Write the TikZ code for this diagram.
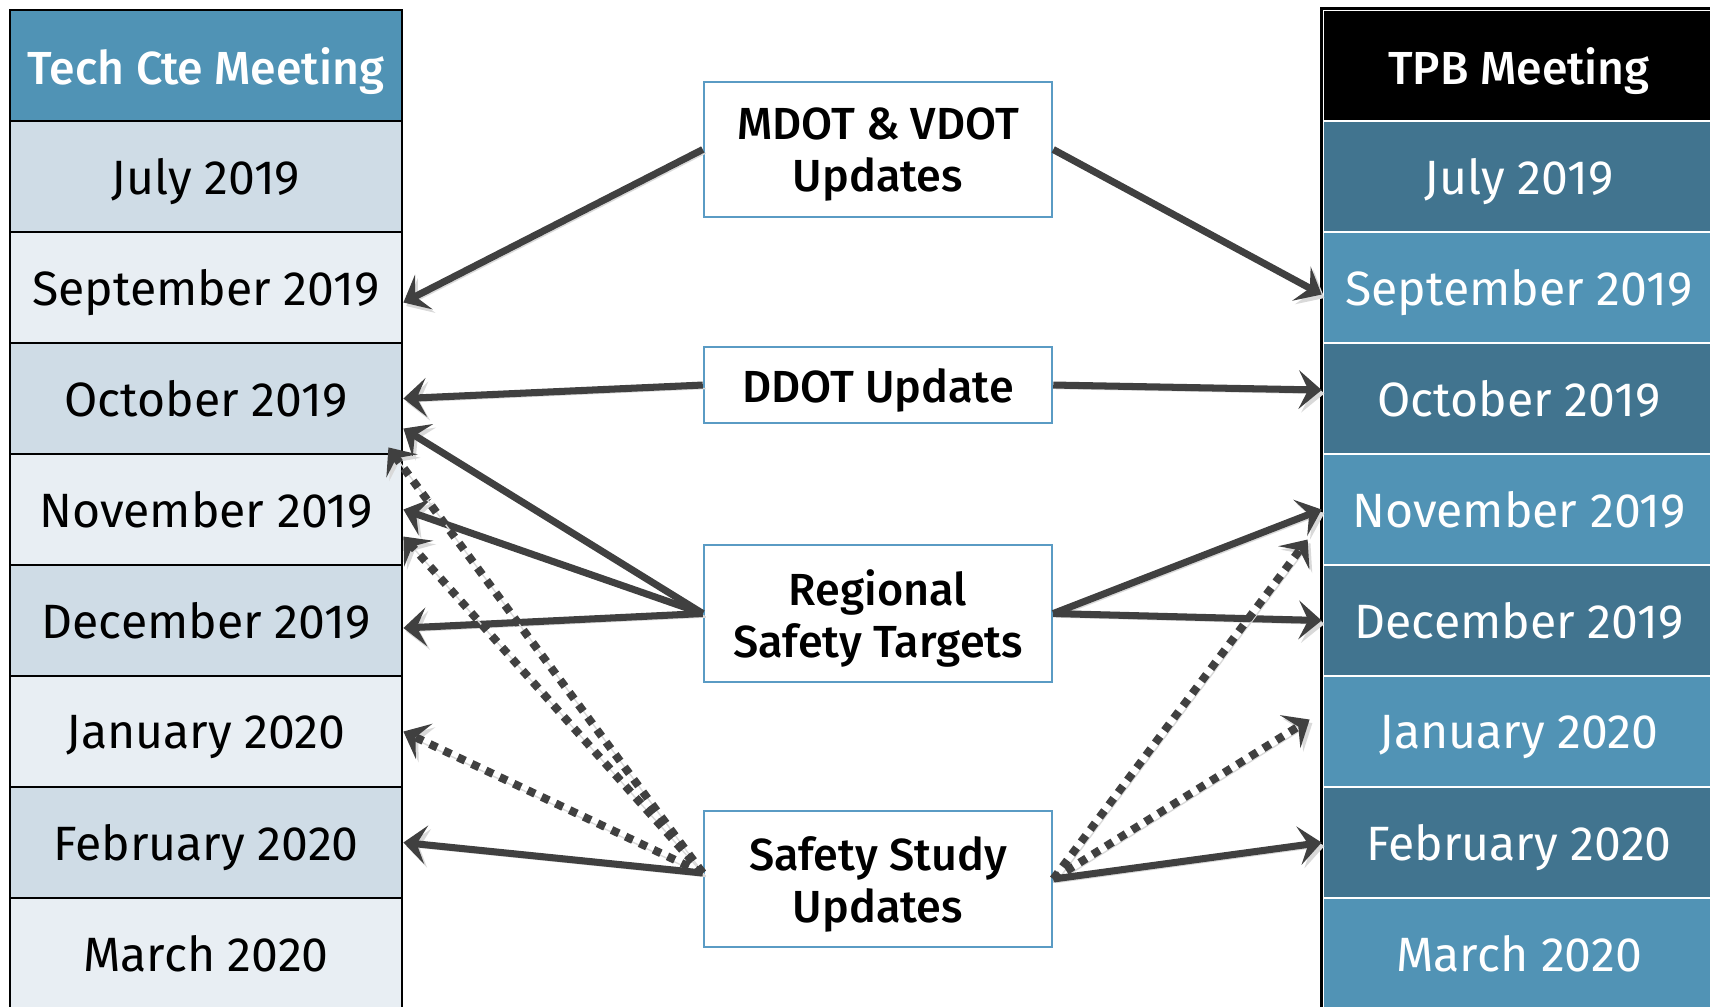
\documentclass[tikz,border=0pt]{standalone}
\usepackage{fontspec}
\setmainfont{Fira Sans}
\newfontfamily\medfont{Fira Sans Medium}
\usepackage{tikz}
\usetikzlibrary{arrows.meta}
\definecolor{cteHead}{RGB}{80,147,181}
\definecolor{cteDark}{RGB}{207,220,230}
\definecolor{cteLight}{RGB}{232,238,243}
\definecolor{tpbDark}{RGB}{65,116,143}
\definecolor{tpbLight}{RGB}{81,147,181}
\definecolor{boxBlue}{RGB}{90,155,196}
\definecolor{arrowGray}{RGB}{64,64,64}

\begin{document}
\begin{tikzpicture}[
  cell/.style={minimum width=3.92cm, minimum height=1.11cm, inner sep=0pt, text depth=0pt, font=\fontsize{13.7}{16}\selectfont},
  ctecell/.style={cell, draw=black, line width=0.8pt},
  tpbcell/.style={cell, draw=white, line width=0.8pt, text=white},
  item/.style={draw=boxBlue, line width=0.7pt, fill=white, minimum width=3.48cm, inner sep=0pt, text depth=0pt, align=center, font=\medfont\fontsize{12.8}{14.8}\selectfont},
  link/.style={draw=arrowGray, line width=2pt, -{Stealth[length=6.5pt,width=11pt,inset=2.7pt]},
    preaction={draw=black!15, transform canvas={shift={(0.8pt,-1pt)}}}},
  maybe/.style={link, line width=2.3pt, dash pattern=on 2.3pt off 2.1pt}
]
 	\useasboundingbox (0,0) rectangle (17.10,-10.06);
 	\clip (0,0) rectangle (17.10,-10.06);
 	% technical committee column
 	\node[ctecell, fill=cteHead, text=white, font=\medfont\fontsize{13.2}{16}\selectfont] (ctehead) at (2.06,-0.655) {Tech Cte Meeting};
 	\node[ctecell, fill=cteDark] (ctejul) at (2.06,-1.765) {July 2019};
 	\node[ctecell, fill=cteLight] (ctesep) at (2.06,-2.875) {September 2019};
 	\node[ctecell, fill=cteDark] (cteoct) at (2.06,-3.985) {October 2019};
 	\node[ctecell, fill=cteLight] (ctenov) at (2.06,-5.095) {November 2019};
 	\node[ctecell, fill=cteDark] (ctedec) at (2.06,-6.205) {December 2019};
 	\node[ctecell, fill=cteLight] (ctejan) at (2.06,-7.315) {January 2020};
 	\node[ctecell, fill=cteDark] (ctefeb) at (2.06,-8.425) {February 2020};
 	\node[ctecell, fill=cteLight] (ctemar) at (2.06,-9.535) {March 2020};
 	% TPB column
 	\node[tpbcell, fill=black, font=\medfont\fontsize{13.2}{16}\selectfont] (tpbhead) at (15.19,-0.655) {TPB Meeting};
 	\node[tpbcell, fill=tpbDark] (tpbjul) at (15.19,-1.765) {July 2019};
 	\node[tpbcell, fill=tpbLight] (tpbsep) at (15.19,-2.875) {September 2019};
 	\node[tpbcell, fill=tpbDark] (tpboct) at (15.19,-3.985) {October 2019};
 	\node[tpbcell, fill=tpbLight] (tpbnov) at (15.19,-5.095) {November 2019};
 	\node[tpbcell, fill=tpbDark] (tpbdec) at (15.19,-6.205) {December 2019};
 	\node[tpbcell, fill=tpbLight] (tpbjan) at (15.19,-7.315) {January 2020};
 	\node[tpbcell, fill=tpbDark] (tpbfeb) at (15.19,-8.425) {February 2020};
 	\node[tpbcell, fill=tpbLight] (tpbmar) at (15.19,-9.535) {March 2020};
 	\draw[black, line width=0.8pt] (tpbhead.north east) -- (tpbhead.north west) -- (tpbmar.south west);
 	% items
 	\node[item, minimum height=1.35cm] (mvdot) at (8.78,-1.495) {MDOT \& VDOT\\Updates};
 	\node[item, minimum height=0.76cm] (ddot) at (8.78,-3.85) {DDOT Update};
 	\node[item, minimum height=1.37cm] (targets) at (8.78,-6.135) {Regional\\Safety Targets};
 	\node[item, minimum height=1.36cm] (study) at (8.78,-8.79) {Safety Study\\Updates};
 	% arrows
 	\draw[link] (mvdot.west) -- ([yshift=-0.15cm]ctesep.east);
 	\draw[link] (mvdot.east) -- ([yshift=-0.07cm]tpbsep.west);
 	\draw[link] (ddot.west) -- (cteoct.east);
 	\draw[link] (ddot.east) -- ([yshift=0.085cm]tpboct.west);
 	\draw[link] (targets.west) -- ([yshift=-0.3cm]cteoct.east);
 	\draw[link] (targets.west) -- (ctenov.east);
 	\draw[link] (targets.west) -- ([yshift=-0.075cm]ctedec.east);
 	\draw[link] (targets.east) -- (tpbnov.west);
 	\draw[link] (targets.east) -- (tpbdec.west);
 	\draw[maybe] ([yshift=0.06cm]study.west) -- ([xshift=-0.15cm,yshift=0.08cm]cteoct.south east);
 	\draw[maybe] ([yshift=0.06cm]study.west) -- ([yshift=-0.27cm]ctenov.east);
 	\draw[maybe] ([yshift=0.06cm]study.west) -- (ctejan.east);
 	\draw[link] ([yshift=0.06cm]study.west) -- (ctefeb.east);
 	\draw[maybe] (study.east) -- ([xshift=-0.14cm,yshift=-0.3cm]tpbnov.west);
 	\draw[maybe] (study.east) -- ([xshift=-0.12cm,yshift=0.12cm]tpbjan.west);
 	\draw[link] (study.east) -- (tpbfeb.west);
\end{tikzpicture}
\end{document}
